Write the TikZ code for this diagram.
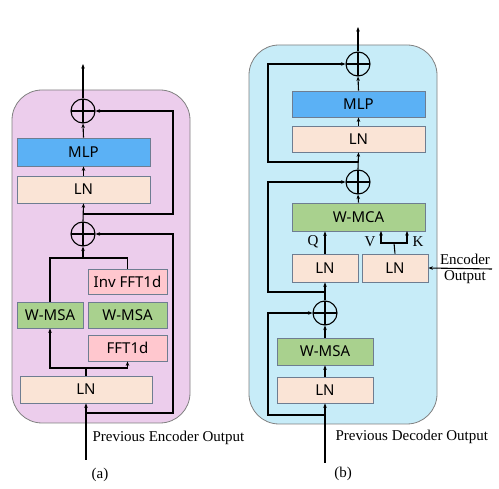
\documentclass[tikz,border=0pt]{standalone}
\usepackage{fontspec}
\setmainfont{Liberation Serif}
\setsansfont{Noto Sans}
\usetikzlibrary{positioning}
\usetikzlibrary{arrows.meta}
\definecolor{bgenc}{RGB}{236,205,236}
\definecolor{bgdec}{RGB}{199,236,248}
\definecolor{mlpblue}{RGB}{91,177,245}
\definecolor{lnpeach}{RGB}{250,228,214}
\definecolor{msagreen}{RGB}{169,209,142}
\definecolor{fftpink}{RGB}{255,199,206}
\definecolor{boxline}{RGB}{110,125,145}
\tikzset{
    blk/.style = {rectangle, draw=boxline, line width=0.8pt, inner sep=0pt, align=center, font=\sffamily\fontsize{15}{18}\selectfont, text=black},
    blkmlp/.style = {blk, fill=mlpblue},
    blkln/.style = {blk, fill=lnpeach},
    blkmsa/.style = {blk, fill=msagreen},
    blkfft/.style = {blk, fill=fftpink},
    plusn/.style = {circle, draw=black, line width=1.1pt, minimum size=24pt, inner sep=0pt,
        path picture={\draw[line width=1.1pt] (path picture bounding box.north) -- (path picture bounding box.south)
                      (path picture bounding box.west) -- (path picture bounding box.east);}},
    panel/.style = {draw=gray, line width=0.8pt, rounded corners=30pt},
    arr/.style = {-{Stealth[length=4.5pt,width=3.5pt]}, line width=1.1pt, black},
    lin/.style = {-, line width=1.1pt, black},
    captxt/.style = {font=\fontsize{15}{17}\selectfont, text=black}
}
\begin{document}
\begin{tikzpicture}[x=1pt,y=-1pt]
\useasboundingbox (0,0) rectangle (499,489);
% panels
\draw[panel, fill=bgenc] (12,90) rectangle (190,423);
\draw[panel, fill=bgdec] (249,45) rectangle (437,424);

% (a) encoder
\node[plusn] at ( 83.0, 111.0) (plusa1) {};
\node[blkmlp, minimum width=133pt, minimum height=28pt] at ( 83.5, 152.0) (mlpa) {MLP};
\node[blkln, minimum width=133pt, minimum height=27pt] at ( 83.5, 189.5) (lna2) {LN};
\node[plusn] at ( 83.0, 234.0) (plusa2) {};
\node[blkfft, minimum width=79pt, minimum height=25pt] at (127.5, 281.5) (invfft) {Inv FFT1d};
\node[blkmsa, minimum width=66pt, minimum height=26pt] at ( 50.0, 315.0) (wmsaa1) {W-MSA};
\node[blkmsa, minimum width=79pt, minimum height=26pt] at (127.5, 315.0) (wmsaa2) {W-MSA};
\node[blkfft, minimum width=79pt, minimum height=26pt] at (127.5, 348.0) (fft) {FFT1d};
\node[blkln, minimum width=132pt, minimum height=27pt] at ( 86.0, 389.5) (lna1) {LN};

\coordinate (ina) at (86,460);
\coordinate (outa) at (83,64);
\coordinate (spa) at (86,368);
\coordinate (joa) at (83,258);
\coordinate (ra1) at (83,214);
\coordinate (ra2) at (86,413);
\coordinate (sidea) at (173,0);

\draw[arr] (ina) -- (lna1.south);
\draw[lin] (lna1.north) -- (spa);
\draw[arr] (spa) -| (wmsaa1.south);
\draw[arr] (spa) -| (fft.south);
\draw[lin] (wmsaa1.north) |- (joa) -| (invfft.north);
\draw[arr] (joa) -- (plusa2.south);
\draw[arr] (plusa2.north) -- (lna2.south);
\draw[arr] (lna2.north) -- (mlpa.south);
\draw[arr] (mlpa.north) -- (plusa1.south);
\draw[arr] (plusa1.north) -- (outa);
\draw[arr] (ra2) -- (ra2 -| sidea) |- (plusa2.east);
\draw[arr] (ra1) -- (ra1 -| sidea) |- (plusa1.east);

\node[captxt, anchor=west] at (89,438) (preva) {Previous Encoder Output};
\node[captxt] at (100,475) (capa) {(a)};

% (b) decoder
\node[plusn] at (358.0,  64.0) (plusb1) {};
\node[blkmlp, minimum width=133pt, minimum height=26pt] at (358.5, 104.0) (mlpb) {MLP};
\node[blkln, minimum width=133pt, minimum height=26pt] at (358.5, 139.0) (lnb3) {LN};
\node[plusn] at (358.0, 182.0) (plusb2) {};
\node[blkmsa, minimum width=133pt, minimum height=28pt] at (358.5, 217.0) (wmca) {W-MCA};
\node[blkln, minimum width=66pt, minimum height=28pt] at (325.0, 268.0) (lnbq) {LN};
\node[blkln, minimum width=66pt, minimum height=28pt] at (395.0, 268.0) (lnbk) {LN};
\node[plusn] at (325.0, 313.0) (plusb3) {};
\node[blkmsa, minimum width=96pt, minimum height=27pt] at (325.0, 351.5) (wmsab) {W-MSA};
\node[blkln, minimum width=96pt, minimum height=26pt] at (325.0, 390.0) (lnb1) {LN};

\coordinate (inb) at (325,463);
\coordinate (outb) at (358,27);
\coordinate (enc) at (492,269);
\coordinate (vk) at (394,243);
\coordinate (vv) at (381,231);
\coordinate (kk) at (407,231);
\coordinate (rb1) at (358,162);
\coordinate (rb2) at (325,292);
\coordinate (rb3) at (325,415);
\coordinate (sideb) at (268,0);

\draw[arr] (inb) -- (lnb1.south);
\draw[arr] (lnb1.north) -- (wmsab.south);
\draw[arr] (wmsab.north) -- (plusb3.south);
\draw[arr] (plusb3.north) -- (lnbq.south);
\draw[arr] (lnbq.north) -- (wmca.south -| lnbq.north);
\draw[lin] (lnbk.north) -- (vk);
\draw[arr] (vk) -| (vv);
\draw[arr] (vk) -| (kk);
\draw[arr] (enc) -- (lnbk.east);
\draw[arr] (wmca.north) -- (plusb2.south);
\draw[arr] (plusb2.north) -- (lnb3.south);
\draw[arr] (lnb3.north) -- (mlpb.south);
\draw[arr] (mlpb.north) -- (plusb1.south);
\draw[arr] (plusb1.north) -- (outb);
\draw[arr] (rb3) -- (rb3 -| sideb) |- (plusb3.west);
\draw[arr] (rb2) -- (rb2 -| sideb) |- (plusb2.west);
\draw[arr] (rb1) -- (rb1 -| sideb) |- (plusb1.west);

\node[captxt, anchor=east] at (322,242) (lq) {Q};
\node[captxt, anchor=east] at (379,242) (lv) {V};
\node[captxt, anchor=west] at (409,242) (lk) {K};
\node[captxt, align=center, font=\fontsize{15}{16.5}\selectfont] at (465,269) (enco) {Encoder\\Output};
\node[captxt, anchor=west] at (332,437) (prevb) {Previous Decoder Output};
\node[captxt] at (343,474) (capb) {(b)};
\end{tikzpicture}
\end{document}
